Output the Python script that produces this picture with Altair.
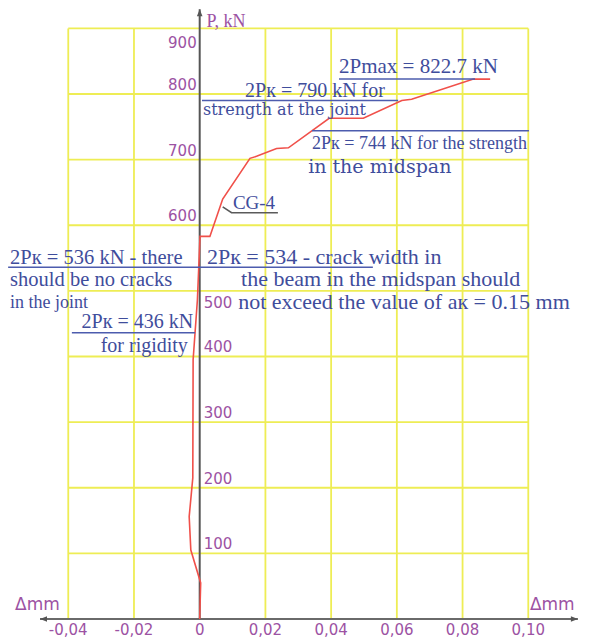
import altair as alt
import pandas as pd

# ---------------- data ----------------
# load–deflection curve of specimen CG-4 (deflection in mm, load P in kN)
curve_dx = [0.0, 0.0003, -0.0027, -0.0032, -0.0021, -0.0020, -0.0007, 0.0001, 0.0031,
            0.0070, 0.0153, 0.0173, 0.0234, 0.0270, 0.0394, 0.0498, 0.0615, 0.0645,
            0.0833, 0.0884]
curve_p = [0, 55, 105, 156, 215, 395, 486, 583, 583,
           640, 702, 705, 717, 718, 763, 763, 790, 792,
           822.7, 822.7]

x_ticks = [-0.04, -0.02, 0.0, 0.02, 0.04, 0.06, 0.08, 0.10]
x_tick_labels = ["-0,04", "-0,02", "0", "0,02", "0,04", "0,06", "0,08", "0,10"]
y_ticks = [100, 200, 300, 400, 500, 600, 700, 800, 900]
y_labels_left_above = [800, 700, 600]
y_labels_left_below = [900]
y_labels_right_above = [400, 300, 200, 100]
y_labels_right_below = [500]

# annotation texts and their anchors (x in mm, y in kN)
ann_text = [
    "2Pmax = 822.7 kN",
    "2Pк = 790 kN for",
    "strength at the joint",
    "2Pк = 744 kN for the strength",
    "in the midspan",
    "CG-4",
    "2Pк = 536 kN  - there",
    "should be no cracks",
    "in the joint",
    "2Pк = 436 kN",
    "for rigidity",
    "2Pк = 534 - crack width in",
    "the beam in the midspan should",
    "not exceed the value of aк = 0.15 mm",
]
ann_x = [0.0424, 0.0138, 0.0010, 0.0342, 0.0330, 0.0101, -0.0577, -0.0577, -0.0577,
         -0.0020, -0.0036, 0.0022, 0.0126, 0.0117]
ann_y = [841, 805, 776, 724, 689, 634, 550, 517, 482, 453, 416, 552, 518, 483]

# underlines of the annotations (load level, from x1 to x2)
ul_p = [822.7, 790, 744, 536, 436]
ul_x1 = [0.0424, 0.0007, 0.0342, -0.0583, -0.0389]
ul_x2 = [0.0838, 0.0604, 0.1002, 0.0527, -0.0014]

# leader line from the curve to the "CG-4" label
leader_x = [0.0070, 0.0097, 0.0238]
leader_p = [628, 619, 619]

axis_x_min, axis_x_max = -0.0486, 0.1151
axis_p_max = 929

# ---------------- styles ----------------
YELLOW = "#eeed55"
BLUE = "#3f4d9c"
LINEBLUE = "#4d5cae"
PURPLE = "#9c52a3"
RED = "#f0504a"
GRAY = "#555555"
SERIF = "Liberation Serif"
WIDE_SERIF = "DejaVu Serif"
SANS = "DejaVu Sans"

W, H = 572, 634
xs = alt.Scale(domain=[-0.05834, 0.11574], nice=False, zero=False)
ys = alt.Scale(domain=[-35.05, 931.05], nice=False, zero=False)


def X(f):
    return alt.X(f, type="quantitative", scale=xs, axis=None)


def Y(f):
    return alt.Y(f, type="quantitative", scale=ys, axis=None)


layers = []

# grid
vgrid = pd.DataFrame({"x": [v for v in x_ticks if v != 0], "y0": 0, "y1": 900})
layers.append(alt.Chart(vgrid).mark_rule(color=YELLOW, strokeWidth=1.8).encode(
    x=X("x"), y=Y("y0"), y2="y1"))
hgrid = pd.DataFrame({"p": y_ticks, "x0": x_ticks[0], "x1": x_ticks[-1]})
layers.append(alt.Chart(hgrid).mark_rule(color=YELLOW, strokeWidth=1.8).encode(
    y=Y("p"), x=X("x0"), x2="x1"))

# axis lines
xaxis = pd.DataFrame({"x0": [axis_x_min], "x1": [axis_x_max], "p": [0]})
layers.append(alt.Chart(xaxis).mark_rule(color="#6a6a6a", strokeWidth=2).encode(
    x=X("x0"), x2="x1", y=Y("p")))
yaxis = pd.DataFrame({"x": [0], "p0": [0], "p1": [axis_p_max]})
layers.append(alt.Chart(yaxis).mark_rule(color=GRAY, strokeWidth=2).encode(
    x=X("x"), y=Y("p0"), y2="p1"))

# arrow heads
arrow_shape = "M0,0L0.4,1L-0.4,1Z"
arrows = pd.DataFrame({"x": [0, axis_x_min, axis_x_max], "p": [axis_p_max, 0, 0],
                       "a": [0, 270, 90]})
layers.append(alt.Chart(arrows).mark_point(shape=arrow_shape, filled=True, size=196,
                                           color=GRAY, opacity=1).encode(
    x=X("x"), y=Y("p"), angle=alt.Angle("a:Q", scale=None)))

# curve
curve = pd.DataFrame({"dx": curve_dx, "p": curve_p, "i": range(len(curve_p))})
layers.append(alt.Chart(curve).mark_line(color=RED, strokeWidth=1.6).encode(
    x=X("dx"), y=Y("p"), order="i:Q"))

# leader
leader = pd.DataFrame({"x": leader_x, "p": leader_p, "i": range(3)})
layers.append(alt.Chart(leader).mark_line(color="#5a5a5a", strokeWidth=1.6).encode(
    x=X("x"), y=Y("p"), order="i:Q"))

# underlines
ul = pd.DataFrame({"p": ul_p, "x1": ul_x1, "x2": ul_x2})
layers.append(alt.Chart(ul).mark_rule(color=LINEBLUE, strokeWidth=1.5).encode(
    y=Y("p"), x=X("x1"), x2="x2"))

# x tick labels
xl = pd.DataFrame({"x": x_ticks, "t": x_tick_labels, "p": 0})
layers.append(alt.Chart(xl).mark_text(font=SANS, fontSize=15, color=PURPLE,
                                      baseline="middle", dy=11).encode(
    x=X("x"), y=Y("p"), text="t:N"))


def ylab(vals, align, dx, dy):
    df = pd.DataFrame({"p": vals, "x": 0, "t": [str(v) for v in vals]})
    return alt.Chart(df).mark_text(font=SANS, fontSize=15, color=PURPLE, align=align,
                                   baseline="middle", dx=dx, dy=dy).encode(
        x=X("x"), y=Y("p"), text="t:N")


layers.append(ylab(y_labels_left_above, "right", -3, -9))
layers.append(ylab(y_labels_left_below, "right", -3, 15))
layers.append(ylab(y_labels_right_above, "left", 4, -9))
layers.append(ylab(y_labels_right_below, "left", 4, 12))

# axis titles
titles = pd.DataFrame({"x": [-0.0562, 0.1005], "p": [21.3, 21.3], "t": ["Δmm", "Δmm"]})
layers.append(alt.Chart(titles).mark_text(font=SANS, fontSize=17, color=PURPLE,
                                          align="left", baseline="middle").encode(
    x=X("x"), y=Y("p"), text="t:N"))
ptitle = pd.DataFrame({"x": [0.0021], "p": [910], "t": ["P, kN"]})
layers.append(alt.Chart(ptitle).mark_text(font=SERIF, fontSize=18, color=PURPLE,
                                          align="left", baseline="middle").encode(
    x=X("x"), y=Y("p"), text="t:N"))

# annotations: (font, size, align) per annotation
ann_style = [
    (SERIF, 21, "left"),
    (SERIF, 20, "left"),
    (WIDE_SERIF, 16, "left"),
    (SERIF, 18, "left"),
    (WIDE_SERIF, 19, "left"),
    (SERIF, 19, "left"),
    (SERIF, 20.5, "left"),
    (SERIF, 20.5, "left"),
    (SERIF, 18, "left"),
    (SERIF, 20, "right"),
    (SERIF, 20, "right"),
    (SERIF, 22, "left"),
    (SERIF, 22, "left"),
    (SERIF, 22, "left"),
]
for t, x, y, (font, size, align) in zip(ann_text, ann_x, ann_y, ann_style):
    df = pd.DataFrame({"x": [x], "p": [y], "t": [t]})
    layers.append(alt.Chart(df).mark_text(font=font, fontSize=size, color=BLUE,
                                          align=align, baseline="middle").encode(
        x=X("x"), y=Y("p"), text="t:N"))

chart = alt.layer(*layers).properties(
    width=W, height=H, padding=0, background="white",
    autosize=alt.AutoSizeParams(type="none"),
).configure_view(stroke=None)

chart.save("out.html", embed_options={"renderer": "svg", "actions": False})
